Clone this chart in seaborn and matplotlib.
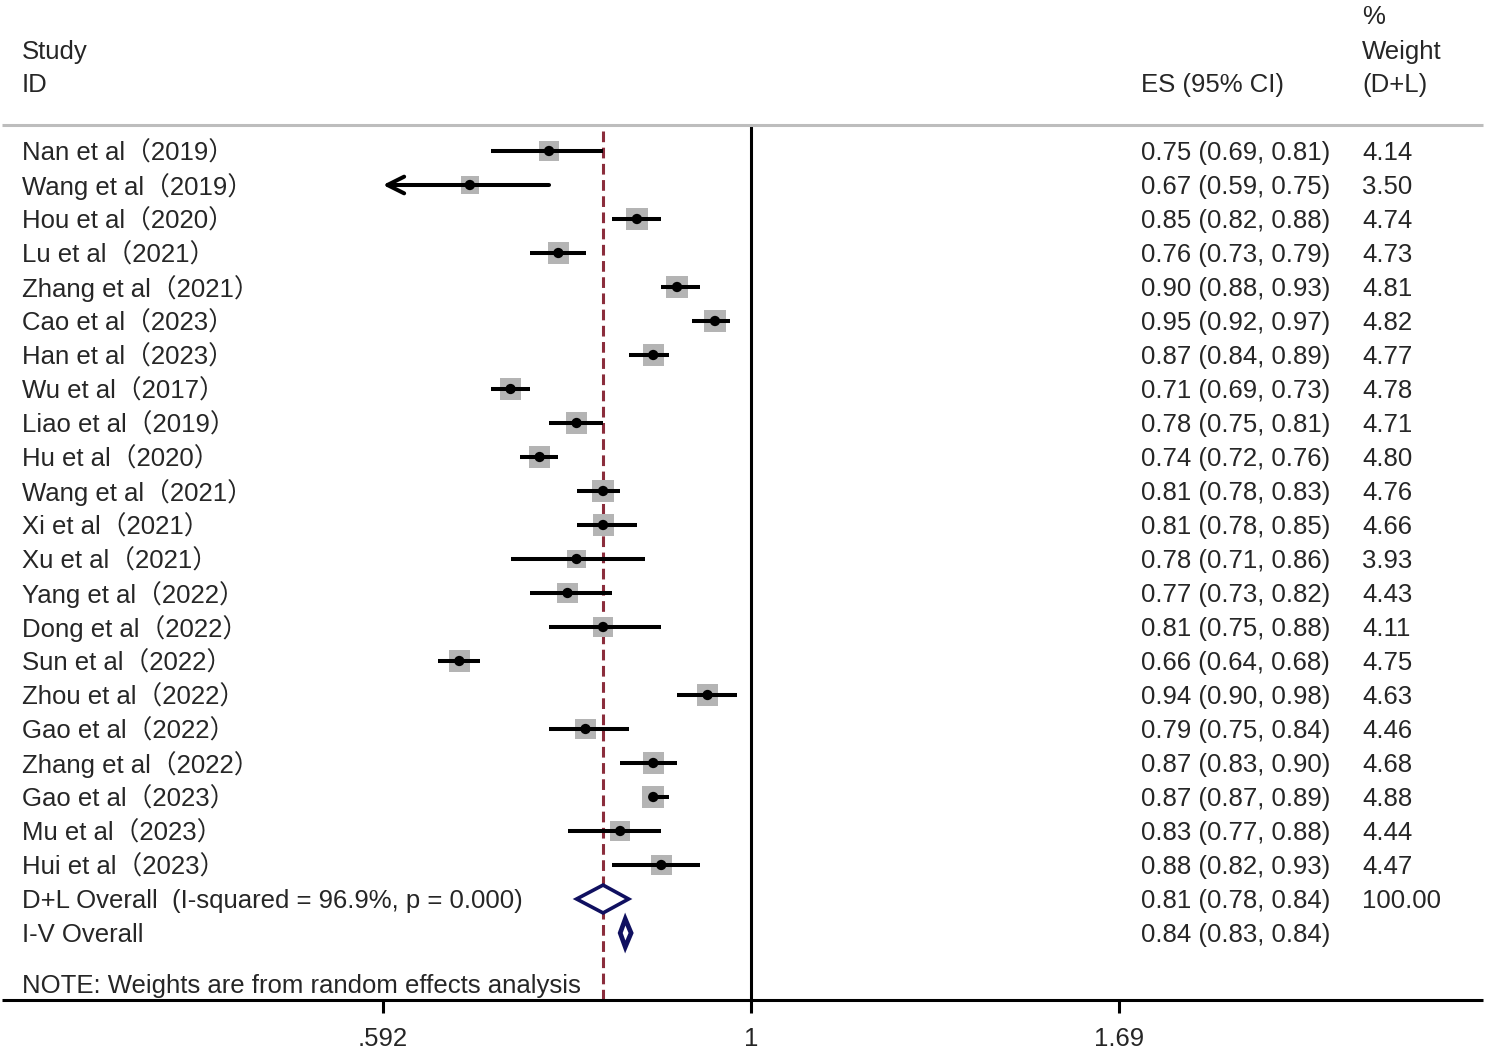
import numpy as np
import pandas as pd
import matplotlib
matplotlib.use("Agg")
import matplotlib.pyplot as plt
import seaborn as sns
from matplotlib.lines import Line2D
from matplotlib.transforms import blended_transform_factory

studies = ["Nan et al（2019）", "Wang et al（2019）", "Hou et al（2020）", "Lu et al（2021）",
           "Zhang et al（2021）", "Cao et al（2023）", "Han et al（2023）", "Wu et al（2017）",
           "Liao et al（2019）", "Hu et al（2020）", "Wang et al（2021）", "Xi et al（2021）",
           "Xu et al（2021）", "Yang et al（2022）", "Dong et al（2022）", "Sun et al（2022）",
           "Zhou et al（2022）", "Gao et al（2022）", "Zhang et al（2022）", "Gao et al（2023）",
           "Mu et al（2023）", "Hui et al（2023）"]
es = [0.75, 0.67, 0.85, 0.76, 0.90, 0.95, 0.87, 0.71, 0.78, 0.74, 0.81,
      0.81, 0.78, 0.77, 0.81, 0.66, 0.94, 0.79, 0.87, 0.87, 0.83, 0.88]
lo = [0.69, 0.59, 0.82, 0.73, 0.88, 0.92, 0.84, 0.69, 0.75, 0.72, 0.78,
      0.78, 0.71, 0.73, 0.75, 0.64, 0.90, 0.75, 0.83, 0.87, 0.77, 0.82]
hi = [0.81, 0.75, 0.88, 0.79, 0.93, 0.97, 0.89, 0.73, 0.81, 0.76, 0.83,
      0.85, 0.86, 0.82, 0.88, 0.68, 0.98, 0.84, 0.90, 0.89, 0.88, 0.93]
weights = [4.14, 3.50, 4.74, 4.73, 4.81, 4.82, 4.77, 4.78, 4.71, 4.80, 4.76,
           4.66, 3.93, 4.43, 4.11, 4.75, 4.63, 4.46, 4.68, 4.88, 4.44, 4.47]

dl_label = "D+L Overall  (I-squared = 96.9%, p = 0.000)"
dl_es, dl_lo, dl_hi = 0.81, 0.78, 0.84
iv_label = "I-V Overall"
iv_es, iv_lo, iv_hi = 0.836, 0.830, 0.843
note = "NOTE: Weights are from random effects analysis"
xticks = [0.592, 1, 1.69]
xticklabels = [".592", "1", "1.69"]

sns.set_style("white")
plt.rcParams["font.family"] = ["Liberation Sans", "Noto Sans CJK SC", "DejaVu Sans"]
fs = 18.5

df = pd.DataFrame({"row": np.arange(len(studies)), "es": es, "lo": lo, "hi": hi, "w": weights})

W, H = 1487, 1051
fig = plt.figure(figsize=(W / 100, H / 100), dpi=100)
ax = fig.add_axes([0, 51 / H, 1483 / W, 875 / H])

scale = 702.0
ax.set_xscale("log")
ax.set_xlim(np.exp(-751 / scale), np.exp((1483 - 751) / scale))
ax.set_ylim((1000 - 151) / 34, (125 - 151) / 34)

# confidence intervals, clipped to plot range with arrow
xmin_c, xmax_c = xticks[0], xticks[-1]
for _, r in df.iterrows():
    l = max(r.lo, xmin_c)
    h = min(r.hi, xmax_c)
    if r.lo < xmin_c:
        ax.annotate("", xy=(l, r.row), xytext=(h, r.row),
                    arrowprops=dict(arrowstyle="->", lw=2.9, color="black",
                                    mutation_scale=30, shrinkA=0, shrinkB=0))
    else:
        ax.hlines(r.row, l, h, color="black", lw=2.9, capstyle="butt", zorder=2)

sns.scatterplot(data=df, x="es", y="row", size="w", sizes=(3.5 * 46, 4.88 * 50),
                size_norm=(3.5, 4.88), marker="s", color="#b4b4b4", edgecolor="none",
                legend=False, ax=ax, zorder=1)
sns.scatterplot(data=df, x="es", y="row", marker="o", s=55, color="black",
                edgecolor="none", legend=False, ax=ax, zorder=3)

# reference lines
ax.axvline(1, color="black", lw=2.2, zorder=0)
ax.axvline(dl_es, color="#8b2d3c", lw=2.2, linestyle=(0, (3.5, 1.8)), zorder=0)

# diamonds
n = len(studies)
hh = 0.41
for yrow, c, a, b, lw_ in [(n, dl_es, dl_lo, dl_hi, 2.6), (n + 1, iv_es, iv_lo, iv_hi, 3.4)]:
    ax.fill([a, c, b, c, a], [yrow, yrow - hh, yrow, yrow + hh, yrow],
            facecolor="white", edgecolor="#101060", lw=lw_, zorder=4, joinstyle="miter")

# frame lines across the full width
for s in ax.spines.values():
    s.set_visible(False)
fig.add_artist(Line2D([2 / W, 1483 / W], [1 - 125 / H, 1 - 125 / H], transform=fig.transFigure,
                      color="#bdbdbd", lw=2.2, solid_capstyle="butt", zorder=10))
fig.add_artist(Line2D([2 / W, 1483 / W], [1 - 1000 / H, 1 - 1000 / H], transform=fig.transFigure,
                      color="black", lw=2.2, solid_capstyle="butt", zorder=10))
ax.set_yticks([])
ax.set_xticks(xticks)
ax.set_xticks([], minor=True)
ax.set_xticklabels(xticklabels, fontsize=fs)
ax.tick_params(axis="x", length=9.5, width=2.2, direction="out", pad=10, bottom=True,
               color="black")
ax.set_xlabel("")
ax.set_ylabel("")

# text columns
dy = 2 / 34
tr = blended_transform_factory(fig.transFigure, ax.transData)
x_lab, x_es, x_w = 22 / W, 1141 / W, 1362 / W
for i, name in enumerate(studies):
    ax.text(x_lab, i + dy, name, transform=tr, fontsize=fs, va="center", ha="left")
    ax.text(x_es, i + dy, f"{es[i]:.2f} ({lo[i]:.2f}, {hi[i]:.2f})", transform=tr,
            fontsize=fs, va="center", ha="left")
    ax.text(x_w, i + dy, f"{weights[i]:.2f}", transform=tr, fontsize=fs, va="center", ha="left")

ax.text(x_lab, n + dy, dl_label, transform=tr, fontsize=fs, va="center", ha="left")
ax.text(x_es, n + dy, f"{dl_es:.2f} ({dl_lo:.2f}, {dl_hi:.2f})", transform=tr,
        fontsize=fs, va="center", ha="left")
ax.text(x_w, n + dy, "100.00", transform=tr, fontsize=fs, va="center", ha="left")
ax.text(x_lab, n + 1 + dy, iv_label, transform=tr, fontsize=fs, va="center", ha="left")
ax.text(x_es, n + 1 + dy, f"{iv_es:.2f} ({iv_lo:.2f}, {iv_hi:.2f})", transform=tr,
        fontsize=fs, va="center", ha="left")
ax.text(x_lab, (984 - 151) / 34 + dy, note, transform=tr, fontsize=fs, va="center", ha="left")

# headers
def head(px, py, s):
    fig.text(px / W, 1 - (py + 2) / H, s, fontsize=fs, va="center", ha="left")

head(22, 50, "Study")
head(22, 83, "ID")
head(1141, 83, "ES (95% CI)")
head(1362, 15, "%")
head(1362, 50, "Weight")
head(1362, 83, "(D+L)")

fig.savefig("out.png", dpi=100)
